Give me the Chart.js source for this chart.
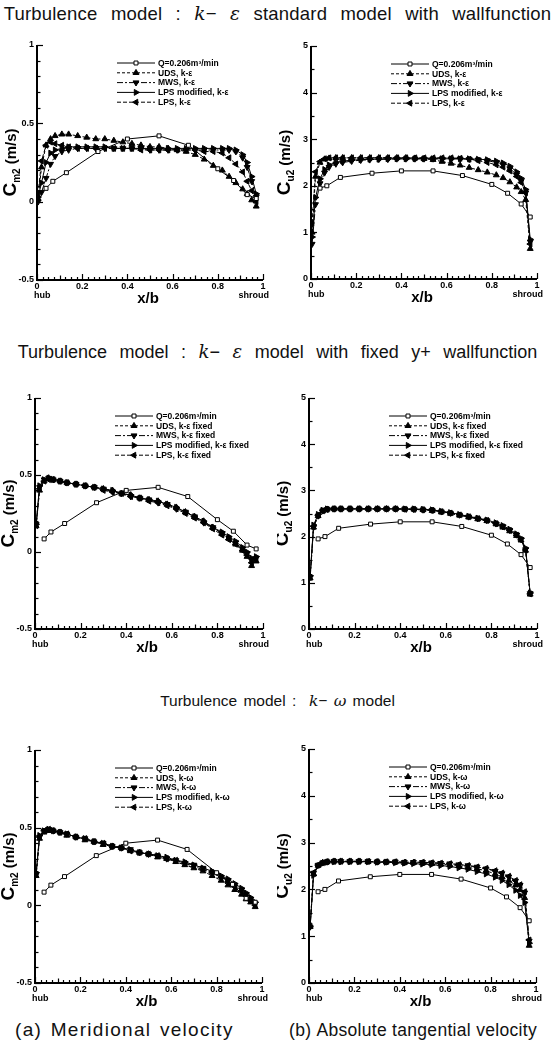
<!DOCTYPE html>
<html>
<head>
<meta charset="utf-8">
<script src="https://cdn.jsdelivr.net/npm/chart.js@4.4.0/dist/chart.umd.min.js"></script>
<style>
  body { margin: 0; width: 555px; height: 1047px; position: relative; background: #fff; overflow: hidden; }
  canvas { position: absolute; }
  .ttl { position: absolute; left: 0; width: 555px; text-align: center; white-space: nowrap;
         font-family: "Liberation Sans", Arial, sans-serif; color: #111; }
  .ttl i { font-family: "DejaVu Serif", serif; }
  .cap { position: absolute; white-space: nowrap; font-family: "Liberation Sans", Arial, sans-serif; color: #111; }
</style>
</head>
<body>
<div class="ttl" style="top:3px; font-size:18.5px; word-spacing:8px; letter-spacing:0.2px;">Turbulence model : <i>k</i>&minus; <i>ε</i> standard model with wallfunction</div>
<div class="ttl" style="top:341px; font-size:18px; word-spacing:7.5px;">Turbulence model : <i>k</i>&minus; <i>ε</i> model with fixed y+ wallfunction</div>
<div class="ttl" style="top:692px; font-size:15.5px; word-spacing:2px;">Turbulence model :&nbsp; <i>k</i>&minus; <i>ω</i> model</div>
<div class="cap" style="left:15px; top:1019px; font-size:19px; letter-spacing:1.3px; word-spacing:2px;">(a)&nbsp;Meridional velocity</div>
<div class="cap" style="left:289px; top:1020px; font-size:17.5px; letter-spacing:0.3px;">(b)&nbsp;Absolute tangential velocity</div>
<script>
// measured points (Q=0.206 m3/min)
const xExp = [0.04, 0.07, 0.13, 0.27, 0.40, 0.54, 0.67, 0.80, 0.87, 0.93, 0.97];
const expCm2 = [0.085, 0.13, 0.185, 0.32, 0.40, 0.42, 0.36, 0.21, 0.135, 0.045, 0.02];
const expCu2 = [1.95, 2.0, 2.18, 2.27, 2.32, 2.32, 2.22, 2.03, 1.84, 1.61, 1.33];

// computed points
const xSim = [0.005, 0.02, 0.04, 0.06, 0.08, 0.11, 0.14, 0.18, 0.22, 0.26, 0.30, 0.34, 0.38, 0.42, 0.46,
              0.50, 0.54, 0.58, 0.62, 0.66, 0.70, 0.74, 0.78, 0.82, 0.85, 0.88, 0.91, 0.93, 0.95, 0.97];

// k-e standard, wallfunction
const keCm2Uds  = [0.02, 0.22, 0.36, 0.40, 0.42, 0.43, 0.43, 0.42, 0.41, 0.40, 0.40, 0.39, 0.38, 0.37, 0.36, 0.35, 0.35, 0.34, 0.33, 0.32, 0.30, 0.27, 0.23, 0.20, 0.16, 0.12, 0.08, 0.05, 0.01, -0.03];
const keCm2Mws  = [0.00, 0.06, 0.15, 0.24, 0.29, 0.32, 0.33, 0.34, 0.34, 0.34, 0.34, 0.34, 0.34, 0.34, 0.34, 0.33, 0.33, 0.33, 0.33, 0.33, 0.33, 0.33, 0.33, 0.33, 0.33, 0.32, 0.28, 0.22, 0.13, 0.03];
const keCm2Lpsm = [0.03, 0.12, 0.25, 0.31, 0.33, 0.34, 0.35, 0.35, 0.35, 0.35, 0.35, 0.34, 0.34, 0.34, 0.34, 0.34, 0.34, 0.34, 0.34, 0.34, 0.34, 0.34, 0.34, 0.34, 0.34, 0.33, 0.30, 0.25, 0.16, 0.05];
const keCm2Lps  = [0.05, 0.26, 0.36, 0.38, 0.37, 0.36, 0.35, 0.34, 0.34, 0.34, 0.34, 0.34, 0.34, 0.34, 0.33, 0.33, 0.33, 0.33, 0.33, 0.33, 0.33, 0.32, 0.32, 0.31, 0.28, 0.24, 0.19, 0.13, 0.07, 0.00];
const keCu2Uds  = [1.00, 2.20, 2.50, 2.57, 2.59, 2.60, 2.60, 2.60, 2.60, 2.60, 2.60, 2.60, 2.60, 2.60, 2.59, 2.58, 2.56, 2.52, 2.48, 2.44, 2.39, 2.34, 2.29, 2.23, 2.17, 2.08, 1.97, 1.87, 1.70, 0.65];
const keCu2Mws  = [0.75, 1.60, 2.05, 2.28, 2.40, 2.47, 2.50, 2.53, 2.55, 2.56, 2.57, 2.57, 2.58, 2.58, 2.58, 2.58, 2.58, 2.58, 2.58, 2.58, 2.57, 2.56, 2.54, 2.50, 2.45, 2.37, 2.24, 2.10, 1.85, 0.80];
const keCu2Lpsm = [0.90, 1.75, 2.15, 2.35, 2.45, 2.50, 2.53, 2.55, 2.56, 2.57, 2.57, 2.58, 2.58, 2.58, 2.58, 2.58, 2.58, 2.58, 2.58, 2.58, 2.58, 2.57, 2.56, 2.53, 2.49, 2.42, 2.30, 2.16, 1.92, 0.85];
const keCu2Lps  = [1.20, 2.30, 2.52, 2.58, 2.60, 2.60, 2.60, 2.60, 2.60, 2.60, 2.60, 2.60, 2.60, 2.60, 2.60, 2.60, 2.60, 2.60, 2.60, 2.59, 2.57, 2.54, 2.50, 2.45, 2.40, 2.32, 2.20, 2.07, 1.85, 0.75];

// k-e, fixed y+ wallfunction
const kfCm2Uds  = [0.17, 0.40, 0.46, 0.48, 0.47, 0.46, 0.45, 0.44, 0.43, 0.42, 0.41, 0.40, 0.38, 0.37, 0.35, 0.34, 0.33, 0.31, 0.29, 0.26, 0.23, 0.20, 0.16, 0.12, 0.09, 0.05, 0.01, -0.03, -0.09, -0.06];
const kfCm2Mws  = [0.18, 0.42, 0.47, 0.48, 0.47, 0.46, 0.45, 0.44, 0.43, 0.42, 0.41, 0.39, 0.38, 0.36, 0.35, 0.34, 0.32, 0.31, 0.28, 0.26, 0.23, 0.19, 0.16, 0.12, 0.09, 0.06, 0.02, -0.01, -0.05, -0.04];
const kfCm2Lpsm = [0.18, 0.43, 0.47, 0.48, 0.47, 0.46, 0.45, 0.44, 0.43, 0.42, 0.41, 0.40, 0.38, 0.37, 0.35, 0.34, 0.33, 0.31, 0.29, 0.26, 0.23, 0.20, 0.16, 0.13, 0.10, 0.07, 0.03, 0.00, -0.04, -0.03];
const kfCm2Lps  = [0.17, 0.41, 0.46, 0.47, 0.47, 0.46, 0.45, 0.44, 0.43, 0.42, 0.40, 0.39, 0.38, 0.36, 0.35, 0.33, 0.32, 0.30, 0.28, 0.25, 0.22, 0.19, 0.15, 0.11, 0.08, 0.05, 0.01, -0.02, -0.07, -0.05];
const kfCu2Uds  = [1.10, 2.20, 2.45, 2.55, 2.59, 2.60, 2.60, 2.60, 2.60, 2.60, 2.60, 2.60, 2.60, 2.59, 2.59, 2.58, 2.56, 2.53, 2.50, 2.46, 2.42, 2.38, 2.34, 2.27, 2.20, 2.12, 2.02, 1.92, 1.70, 0.75];
const kfCu2Mws  = [1.12, 2.20, 2.45, 2.56, 2.59, 2.60, 2.60, 2.60, 2.60, 2.60, 2.60, 2.60, 2.60, 2.60, 2.59, 2.58, 2.57, 2.54, 2.51, 2.47, 2.43, 2.39, 2.35, 2.28, 2.22, 2.14, 2.04, 1.94, 1.72, 0.77];
const kfCu2Lpsm = [1.15, 2.25, 2.48, 2.57, 2.60, 2.60, 2.60, 2.60, 2.60, 2.60, 2.60, 2.60, 2.60, 2.60, 2.60, 2.59, 2.58, 2.55, 2.52, 2.48, 2.44, 2.40, 2.36, 2.30, 2.24, 2.16, 2.06, 1.96, 1.75, 0.78];
const kfCu2Lps  = [1.12, 2.22, 2.46, 2.56, 2.59, 2.60, 2.60, 2.60, 2.60, 2.60, 2.60, 2.60, 2.60, 2.59, 2.59, 2.58, 2.57, 2.54, 2.51, 2.47, 2.43, 2.39, 2.35, 2.28, 2.21, 2.13, 2.03, 1.93, 1.71, 0.76];

// k-w
const kwCm2Uds  = [0.19, 0.43, 0.47, 0.48, 0.48, 0.47, 0.45, 0.44, 0.42, 0.41, 0.39, 0.38, 0.37, 0.35, 0.34, 0.33, 0.31, 0.30, 0.28, 0.26, 0.24, 0.22, 0.19, 0.16, 0.13, 0.10, 0.07, 0.04, 0.02, -0.01];
const kwCm2Mws  = [0.20, 0.44, 0.48, 0.49, 0.48, 0.47, 0.46, 0.44, 0.43, 0.41, 0.40, 0.38, 0.37, 0.36, 0.34, 0.33, 0.32, 0.30, 0.29, 0.27, 0.26, 0.24, 0.21, 0.18, 0.16, 0.13, 0.10, 0.07, 0.04, 0.01];
const kwCm2Lpsm = [0.21, 0.45, 0.48, 0.49, 0.48, 0.47, 0.46, 0.44, 0.43, 0.41, 0.40, 0.38, 0.37, 0.36, 0.34, 0.33, 0.32, 0.31, 0.29, 0.28, 0.26, 0.24, 0.22, 0.19, 0.17, 0.14, 0.11, 0.08, 0.05, 0.02];
const kwCm2Lps  = [0.20, 0.44, 0.48, 0.49, 0.48, 0.47, 0.46, 0.44, 0.43, 0.41, 0.40, 0.38, 0.37, 0.35, 0.34, 0.33, 0.32, 0.30, 0.29, 0.27, 0.25, 0.23, 0.21, 0.18, 0.15, 0.12, 0.09, 0.06, 0.03, 0.00];
const kwCu2Uds  = [1.20, 2.33, 2.51, 2.57, 2.59, 2.60, 2.60, 2.60, 2.60, 2.59, 2.59, 2.58, 2.58, 2.57, 2.57, 2.56, 2.55, 2.54, 2.52, 2.50, 2.47, 2.44, 2.40, 2.33, 2.27, 2.19, 2.09, 1.99, 1.82, 0.80];
const kwCu2Mws  = [1.20, 2.35, 2.52, 2.57, 2.59, 2.60, 2.60, 2.60, 2.60, 2.60, 2.59, 2.59, 2.59, 2.58, 2.58, 2.58, 2.57, 2.56, 2.55, 2.53, 2.51, 2.48, 2.44, 2.39, 2.34, 2.27, 2.18, 2.09, 1.93, 0.90];
const kwCu2Lpsm = [1.20, 2.30, 2.50, 2.56, 2.58, 2.59, 2.59, 2.59, 2.59, 2.59, 2.58, 2.58, 2.57, 2.56, 2.55, 2.54, 2.53, 2.51, 2.49, 2.46, 2.43, 2.38, 2.33, 2.26, 2.19, 2.10, 1.98, 1.87, 1.72, 0.85];
const kwCu2Lps  = [1.22, 2.36, 2.52, 2.57, 2.59, 2.60, 2.60, 2.60, 2.60, 2.60, 2.59, 2.59, 2.59, 2.58, 2.58, 2.58, 2.57, 2.56, 2.55, 2.53, 2.51, 2.48, 2.45, 2.40, 2.35, 2.28, 2.19, 2.10, 1.95, 0.92];

const legendKe = ["Q=0.206m\u00B3/min", "UDS, k-\u03B5", "MWS, k-\u03B5", "LPS modified, k-\u03B5", "LPS, k-\u03B5"];
const legendKf = ["Q=0.206m\u00B3/min", "UDS, k-\u03B5 fixed", "MWS, k-\u03B5 fixed", "LPS modified, k-\u03B5 fixed", "LPS, k-\u03B5 fixed"];
const legendKw = ["Q=0.206m\u00B3/min", "UDS, k-\u03C9", "MWS, k-\u03C9", "LPS modified, k-\u03C9", "LPS, k-\u03C9"];

const xTickValues = [0, 0.2, 0.4, 0.6, 0.8, 1];
const xTickLabels = ["0", "0.2", "0.4", "0.6", "0.8", "1"];
const cmTickValues = [-0.5, 0, 0.5, 1];
const cmTickLabels = ["-0.5", "0", "0.5", "1"];
const cuTickValues = [0, 1, 2, 3, 4, 5];
const cuTickLabels = ["0", "1", "2", "3", "4", "5"];

// marker / line look of the five series
const looks = [
  { pointStyle: "rect", rotation: 0, dash: [], fill: "#fff", r: 2.8 },
  { pointStyle: "triangle", rotation: 0, dash: [3, 2], fill: "#000", r: 3.4 },
  { pointStyle: "triangle", rotation: 180, dash: [6, 2, 2, 2], fill: "#000", r: 3.4 },
  { pointStyle: "triangle", rotation: 90, dash: [], fill: "#000", r: 3.4 },
  { pointStyle: "triangle", rotation: -90, dash: [4, 2], fill: "#000", r: 3.4 }
];

function pts(xs, ys) {
  return xs.map((x, i) => ({ x: x, y: ys[i] }));
}

function decoPlugin(p) {
  return {
    id: "deco",
    afterDatasetsDraw(chart) {
      const ctx = chart.ctx;
      const xs = chart.scales.x, ys = chart.scales.y;
      const a = chart.chartArea;
      ctx.save();
      ctx.strokeStyle = "#000";
      ctx.fillStyle = "#000";
      // axes
      ctx.lineWidth = 2;
      ctx.beginPath();
      ctx.moveTo(a.left, a.top);
      ctx.lineTo(a.left, a.bottom);
      ctx.lineTo(a.right, a.bottom);
      ctx.stroke();
      ctx.lineWidth = 1.2;
      // y ticks, inward
      for (let v = p.yMin; v <= p.yMax + 1e-9; v += p.yMinor) {
        const y = Math.round(ys.getPixelForValue(v)) + 0.5;
        const major = p.yTicks.some(t => Math.abs(t - v) < 1e-6);
        ctx.beginPath();
        ctx.moveTo(a.left, y);
        ctx.lineTo(a.left + (major ? 6 : 3.5), y);
        ctx.stroke();
      }
      // x ticks, inward
      for (let k = 0; k <= 40; k++) {
        const v = k * 0.025;
        const x = Math.round(xs.getPixelForValue(v)) + 0.5;
        const len = k % 8 === 0 ? 6 : (k % 4 === 0 ? 4.5 : 3);
        ctx.beginPath();
        ctx.moveTo(x, a.bottom);
        ctx.lineTo(x, a.bottom - len);
        ctx.stroke();
      }
      // tick labels
      ctx.font = "bold 9px 'Liberation Sans', Arial, sans-serif";
      ctx.textAlign = "right";
      ctx.textBaseline = "middle";
      p.yTicks.forEach((v, i) => ctx.fillText(p.yLabels[i], a.left - 3, ys.getPixelForValue(v)));
      ctx.textAlign = "center";
      ctx.textBaseline = "top";
      xTickValues.forEach((v, i) => ctx.fillText(xTickLabels[i], xs.getPixelForValue(v), a.bottom + 2));
      ctx.textAlign = "left";
      ctx.fillText("hub", a.left - 3, a.bottom + 11);
      ctx.textAlign = "right";
      ctx.fillText("shroud", a.right + 6, a.bottom + 11);
      ctx.textAlign = "center";
      ctx.font = "bold 15px 'Liberation Sans', Arial, sans-serif";
      ctx.fillText("x/b", (a.left + a.right) / 2 - 2, a.bottom + 11);
      // y title with subscript
      ctx.save();
      ctx.translate(a.left - 21, (a.top + a.bottom) / 2);
      ctx.rotate(-Math.PI / 2);
      ctx.textAlign = "left";
      ctx.textBaseline = "alphabetic";
      const fBig = "bold 19px 'Liberation Sans', Arial, sans-serif";
      const fSub = "bold 10px 'Liberation Sans', Arial, sans-serif";
      const fUnit = "bold 15px 'Liberation Sans', Arial, sans-serif";
      ctx.font = fBig; const w1 = ctx.measureText("C").width;
      ctx.font = fSub; const w2 = ctx.measureText(p.sub).width;
      ctx.font = fUnit; const w3 = ctx.measureText(" (m/s)").width;
      let x0 = -(w1 + w2 + w3) / 2;
      ctx.font = fBig; ctx.fillText("C", x0, 0); x0 += w1;
      ctx.font = fSub; ctx.fillText(p.sub, x0, 4); x0 += w2;
      ctx.font = fUnit; ctx.fillText(" (m/s)", x0, 0);
      ctx.restore();
      // legend
      ctx.font = "bold 8.5px 'Liberation Sans', Arial, sans-serif";
      ctx.textAlign = "left";
      ctx.textBaseline = "middle";
      p.legend.forEach((txt, i) => {
        const y = a.top + 18 + i * 9.8;
        const lk = looks[i];
        ctx.lineWidth = 1;
        ctx.setLineDash(lk.dash);
        ctx.beginPath();
        ctx.moveTo(a.left + 80, y);
        ctx.lineTo(a.left + 118, y);
        ctx.stroke();
        ctx.setLineDash([]);
        ctx.fillStyle = lk.fill;
        Chart.helpers.drawPoint(ctx, { pointStyle: lk.pointStyle, rotation: lk.rotation, radius: lk.r, borderWidth: 1 }, a.left + 99, y);
        ctx.fillStyle = "#000";
        ctx.fillText(txt, a.left + 121, y + 0.5);
      });
      ctx.restore();
    }
  };
}

function makePanel(p) {
  const c = document.createElement("canvas");
  c.width = p.w; c.height = p.h;
  c.style.left = p.x + "px"; c.style.top = p.y + "px";
  c.style.width = p.w + "px"; c.style.height = p.h + "px";
  document.body.appendChild(c);
  const datasets = p.series.map((s, i) => ({
    data: i === 0 ? pts(xExp, s) : pts(xSim, s),
    showLine: true,
    borderColor: "#000",
    borderWidth: 1,
    borderDash: looks[i].dash,
    pointStyle: looks[i].pointStyle,
    rotation: looks[i].rotation,
    pointRadius: looks[i].r,
    pointBackgroundColor: looks[i].fill,
    pointBorderColor: "#000",
    pointBorderWidth: 1,
    order: i === 0 ? 0 : 1
  }));
  new Chart(c, {
    type: "scatter",
    data: { datasets: datasets },
    options: {
      responsive: false,
      animation: false,
      events: [],
      layout: { padding: { left: p.area[0] - p.x, top: p.area[1] - p.y, right: p.x + p.w - p.area[2], bottom: p.y + p.h - p.area[3] } },
      scales: {
        x: { type: "linear", min: 0, max: 1, display: false },
        y: { type: "linear", min: p.yMin, max: p.yMax, display: false }
      },
      plugins: { legend: { display: false }, tooltip: { enabled: false } }
    },
    plugins: [decoPlugin(p)]
  });
}

const cmAxis = { yMin: -0.5, yMax: 1, yMinor: 0.1, yTicks: cmTickValues, yLabels: cmTickLabels, sub: "m2" };
const cuAxis = { yMin: 0, yMax: 5, yMinor: 0.5, yTicks: cuTickValues, yLabels: cuTickLabels, sub: "u2" };

[
  Object.assign({ x: 0, y: 25, w: 277, h: 290, area: [37, 45, 263, 280], legend: legendKe, series: [expCm2, keCm2Uds, keCm2Mws, keCm2Lpsm, keCm2Lps] }, cmAxis),
  Object.assign({ x: 277, y: 25, w: 278, h: 290, area: [311, 46, 537, 279], legend: legendKe, series: [expCu2, keCu2Uds, keCu2Mws, keCu2Lpsm, keCu2Lps] }, cuAxis),
  Object.assign({ x: 0, y: 378, w: 277, h: 292, area: [35, 398, 263, 629], legend: legendKf, series: [expCm2, kfCm2Uds, kfCm2Mws, kfCm2Lpsm, kfCm2Lps] }, cmAxis),
  Object.assign({ x: 277, y: 378, w: 278, h: 292, area: [309, 398, 537, 629], legend: legendKf, series: [expCu2, kfCu2Uds, kfCu2Mws, kfCu2Lpsm, kfCu2Lps] }, cuAxis),
  Object.assign({ x: 0, y: 728, w: 277, h: 288, area: [35, 750, 262, 983], legend: legendKw, series: [expCm2, kwCm2Uds, kwCm2Mws, kwCm2Lpsm, kwCm2Lps] }, cmAxis),
  Object.assign({ x: 277, y: 728, w: 278, h: 288, area: [309, 749, 536, 983], legend: legendKw, series: [expCu2, kwCu2Uds, kwCu2Mws, kwCu2Lpsm, kwCu2Lps] }, cuAxis)
].forEach(makePanel);
</script>
</body>
</html>
